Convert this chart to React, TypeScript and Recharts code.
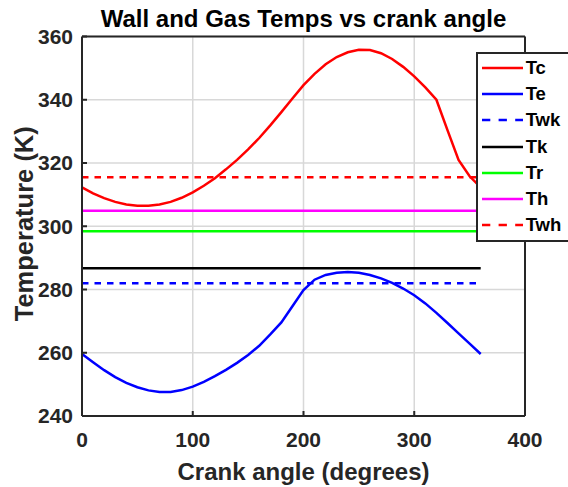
import { LineChart, Line, XAxis, YAxis, CartesianGrid, Legend, Label } from 'recharts';

// crank angle (deg) and gas temperatures
const angles = [
  0, 10, 20, 30, 40, 50, 60, 70, 80, 90, 100, 110, 120, 130, 140, 150, 160, 170, 180,
  190, 200, 210, 220, 230, 240, 250, 260, 270, 280, 290, 300, 310, 320, 330, 340, 350, 360,
];
const tcValues = [
  312.3, 310.4, 308.9, 307.7, 306.9, 306.5, 306.5, 306.9, 307.7, 309.0, 310.7, 312.8, 315.2,
  318.0, 321.0, 324.3, 327.9, 331.9, 336.1, 340.4, 344.6, 348.2, 351.2, 353.5, 355.0, 355.8,
  355.7, 354.7, 352.9, 350.4, 347.4, 343.9, 340.0, 330.4, 321.0, 315.8, 312.3,
];
const teValues = [
  259.6, 257.0, 254.5, 252.3, 250.5, 249.1, 248.1, 247.6, 247.6, 248.2, 249.3, 250.8, 252.6,
  254.6, 256.8, 259.3, 262.2, 265.8, 269.6, 274.7, 279.8, 283.1, 284.6, 285.3, 285.5, 285.3,
  284.6, 283.5, 282.1, 280.3, 278.2, 275.6, 272.6, 269.4, 266.1, 262.9, 259.6,
];

// constant wall / heat exchanger temperatures
const wallNames = ['Twk', 'Tk', 'Tr', 'Th', 'Twh'];
const wallValues = [282.0, 286.7, 298.4, 304.9, 315.5];

const xTicks = [0, 100, 200, 300, 400];
const yTicks = [240, 260, 280, 300, 320, 340, 360];

const series = [
  { key: 'Tc', color: '#ff0000', dashed: false },
  { key: 'Te', color: '#0000ff', dashed: false },
  { key: 'Twk', color: '#0000ff', dashed: true },
  { key: 'Tk', color: '#000000', dashed: false },
  { key: 'Tr', color: '#00ff00', dashed: false },
  { key: 'Th', color: '#ff00ff', dashed: false },
  { key: 'Twh', color: '#ff0000', dashed: true },
];

const data = angles.map((angle, i) => {
  const row: Record<string, number> = { angle, Tc: tcValues[i], Te: teValues[i] };
  wallNames.forEach((name, j) => {
    row[name] = wallValues[j];
  });
  return row;
});

const FONT = '"Liberation Sans", Arial, Helvetica, sans-serif';
const INK = '#262626';
const tickStyle = { fill: INK, fontSize: 21, fontWeight: 700, fontFamily: FONT };

const seriesIndex = (name: string) => series.findIndex((s) => s.key === name);

function LegendBox(props: any) {
  const payload = [...(props.payload || [])].sort(
    (a: any, b: any) => seriesIndex(a.value) - seriesIndex(b.value)
  );
  return (
    <div
      style={{
        border: `2px solid ${INK}`,
        background: '#fff',
        width: 96,
        padding: '1.25px 0 2px 0',
        boxSizing: 'content-box',
      }}
    >
      {payload.map((entry: any) => {
        const s = series[seriesIndex(entry.value)] || series[0];
        return (
          <div key={entry.value} style={{ display: 'flex', alignItems: 'center', height: 26.1 }}>
            <svg width={41} height={6} style={{ marginLeft: 3.7, display: 'block' }}>
              <line
                x1={0}
                y1={3}
                x2={41}
                y2={3}
                stroke={s.color}
                strokeWidth={2.5}
                strokeDasharray={s.dashed ? '8.3 8.3' : undefined}
              />
            </svg>
            <span
              style={{
                marginLeft: 3,
                fontFamily: FONT,
                fontWeight: 700,
                fontSize: 18.5,
                color: '#000',
                lineHeight: '26.1px',
              }}
            >
              {entry.value}
            </span>
          </div>
        );
      })}
    </div>
  );
}

export default function App() {
  return (
    <div
      style={{
        position: 'absolute',
        left: 0,
        top: 0,
        width: 568,
        height: 487,
        overflow: 'hidden',
        background: '#fff',
      }}
    >
      <LineChart width={568} height={487} data={data} margin={{ top: 35.5, right: 42, bottom: 0, left: 0 }}>
        <CartesianGrid stroke="#d8d8d8" strokeWidth={1.5} />
        <XAxis
          dataKey="angle"
          type="number"
          domain={[0, 400]}
          ticks={xTicks}
          height={71}
          tick={tickStyle}
          tickSize={-5}
          tickMargin={21}
          axisLine={{ stroke: INK, strokeWidth: 2 }}
          tickLine={{ stroke: INK, strokeWidth: 2 }}
        >
          <Label
            content={(p: any) => {
              const vb = p.viewBox;
              return (
                <text
                  x={vb.x + vb.width / 2}
                  y={vb.y + 64}
                  textAnchor="middle"
                  fontFamily={FONT}
                  fontWeight={700}
                  fontSize={24}
                  fill={INK}
                >
                  Crank angle (degrees)
                </text>
              );
            }}
          />
        </XAxis>
        <XAxis
          xAxisId="top"
          orientation="top"
          dataKey="angle"
          type="number"
          domain={[0, 400]}
          ticks={xTicks}
          height={1}
          tick={false}
          tickSize={-5}
          axisLine={{ stroke: INK, strokeWidth: 2 }}
          tickLine={{ stroke: INK, strokeWidth: 2 }}
        >
          <Label
            content={(p: any) => {
              const vb = p.viewBox;
              return (
                <text
                  x={vb.x + vb.width / 2}
                  y={27}
                  textAnchor="middle"
                  fontFamily={FONT}
                  fontWeight={700}
                  fontSize={24}
                  fill="#000"
                >
                  Wall and Gas Temps vs crank angle
                </text>
              );
            }}
          />
        </XAxis>
        <YAxis
          type="number"
          domain={[240, 360]}
          ticks={yTicks}
          width={82}
          tick={tickStyle}
          tickSize={-5}
          tickMargin={14}
          axisLine={{ stroke: INK, strokeWidth: 2 }}
          tickLine={{ stroke: INK, strokeWidth: 2 }}
        >
          <Label
            content={(p: any) => {
              const vb = p.viewBox;
              const cx = 33;
              const cy = vb.y + vb.height / 2 - 2.5;
              return (
                <text
                  x={cx}
                  y={cy}
                  transform={`rotate(-90, ${cx}, ${cy})`}
                  textAnchor="middle"
                  fontFamily={FONT}
                  fontWeight={700}
                  fontSize={25.5}
                  fill={INK}
                >
                  Temperature (K)
                </text>
              );
            }}
          />
        </YAxis>
        <YAxis
          yAxisId="right"
          orientation="right"
          type="number"
          domain={[240, 360]}
          ticks={yTicks}
          width={1}
          tick={false}
          tickSize={-5}
          axisLine={{ stroke: INK, strokeWidth: 2 }}
          tickLine={{ stroke: INK, strokeWidth: 2 }}
        />
        {series.map((s) => (
          <Line
            key={s.key}
            dataKey={s.key}
            name={s.key}
            type="linear"
            stroke={s.color}
            strokeWidth={2.5}
            strokeDasharray={s.dashed ? '6.5 6' : undefined}
            dot={false}
            activeDot={false}
            isAnimationActive={false}
          />
        ))}
        <Legend
          layout="vertical"
          align="center"
          verticalAlign="middle"
          content={<LegendBox />}
          wrapperStyle={{ left: 476, top: 52, width: 100, margin: 0 }}
        />
      </LineChart>
    </div>
  );
}
